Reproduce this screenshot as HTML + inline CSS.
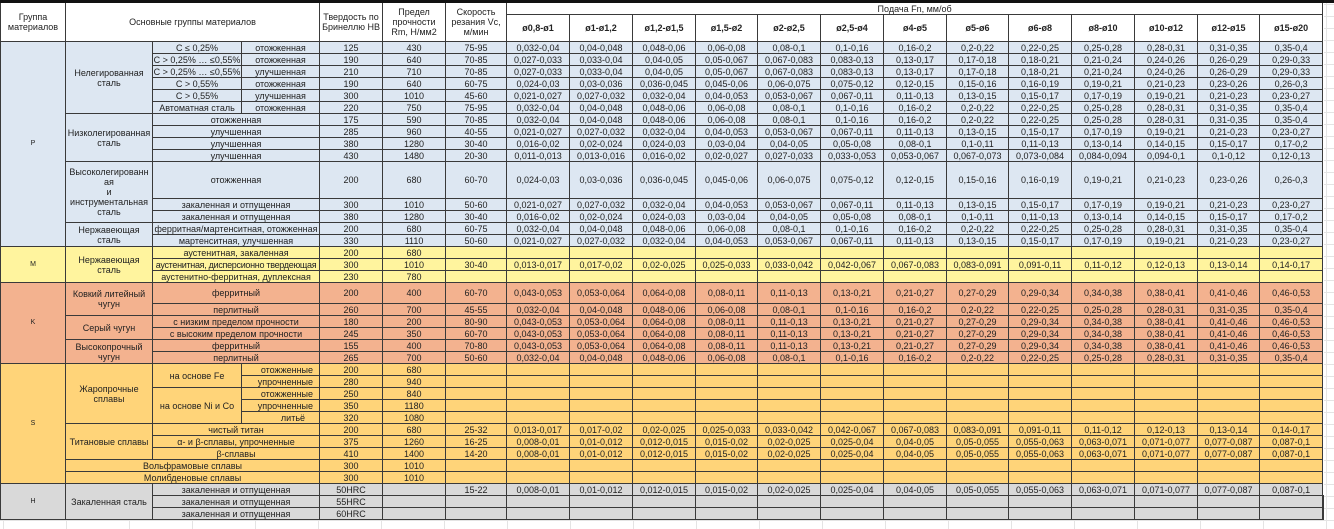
<!DOCTYPE html>
<html><head><meta charset="utf-8">
<style>
body{margin:0;background:#fff;width:1334px;height:529px;overflow:hidden;font-family:"Liberation Sans",Arial,sans-serif;position:relative;
background-image:linear-gradient(#e4e4e4 1px,transparent 1px),linear-gradient(90deg,#e4e4e4 1px,transparent 1px);background-size:100% 12px,63px 100%;background-position:0 4px,3px 0;}
.bar{height:3px;background:#111;width:1334px;}
table{border-collapse:collapse;table-layout:fixed;width:1324px;background:#fff;}
td{border:1px solid #3a3a3a;padding:0;font-size:9px;line-height:10px;text-align:center;color:#222;white-space:nowrap;overflow:hidden;}
td.w{white-space:normal;}
tr.r td{height:11px;}
.hd td{background:#fff;}
.hd2 td{font-weight:bold;height:26px;}
.p td{background:#dde7f2;}
.m td{background:#fff49e;}
.k td{background:#f3b28f;}
.s td{background:#ffd479;}
.h td{background:#d9d9d9;}
.g{font-size:7px;}
</style></head><body>
<div class="bar"></div>
<table>
<colgroup><col style="width:65px"><col style="width:87px"><col style="width:89px"><col style="width:78px"><col style="width:63px"><col style="width:63px"><col style="width:61px">
<col style="width:63px"><col style="width:63px"><col style="width:63px"><col style="width:62px"><col style="width:63px"><col style="width:63px"><col style="width:63px"><col style="width:62px"><col style="width:63px"><col style="width:63px"><col style="width:63px"><col style="width:62px"><col style="width:63px"></colgroup>
<tr class="hd"><td rowspan="2" class="w" style="border-top:none">Группа<br>материалов</td><td rowspan="2" colspan="3" style="border-top:none">Основные группы материалов</td><td rowspan="2" class="w" style="border-top:none">Твердость по<br>Бринеллю HB</td><td rowspan="2" class="w" style="border-top:none">Предел<br>прочности<br>Rm, Н/мм2</td><td rowspan="2" class="w" style="border-top:none">Скорость<br>резания Vc,<br>м/мин</td><td colspan="13" style="height:11px;border-top:none">Подача Fn, мм/об</td></tr>
<tr class="hd hd2"><td>ø0,8-ø1</td><td>ø1-ø1,2</td><td>ø1,2-ø1,5</td><td>ø1,5-ø2</td><td>ø2-ø2,5</td><td>ø2,5-ø4</td><td>ø4-ø5</td><td>ø5-ø6</td><td>ø6-ø8</td><td>ø8-ø10</td><td>ø10-ø12</td><td>ø12-ø15</td><td>ø15-ø20</td></tr>

<tr class="p r"><td rowspan="15" class="g">P</td><td rowspan="6" class="w">Нелегированная<br>сталь</td><td>C ≤ 0,25%</td><td>отожженная</td><td>125</td><td>430</td><td>75-95</td><td>0,032-0,04</td><td>0,04-0,048</td><td>0,048-0,06</td><td>0,06-0,08</td><td>0,08-0,1</td><td>0,1-0,16</td><td>0,16-0,2</td><td>0,2-0,22</td><td>0,22-0,25</td><td>0,25-0,28</td><td>0,28-0,31</td><td>0,31-0,35</td><td>0,35-0,4</td></tr>
<tr class="p r"><td>C &gt; 0,25% … ≤0,55%</td><td>отожженная</td><td>190</td><td>640</td><td>70-85</td><td>0,027-0,033</td><td>0,033-0,04</td><td>0,04-0,05</td><td>0,05-0,067</td><td>0,067-0,083</td><td>0,083-0,13</td><td>0,13-0,17</td><td>0,17-0,18</td><td>0,18-0,21</td><td>0,21-0,24</td><td>0,24-0,26</td><td>0,26-0,29</td><td>0,29-0,33</td></tr>
<tr class="p r"><td>C &gt; 0,25% … ≤0,55%</td><td>улучшенная</td><td>210</td><td>710</td><td>70-85</td><td>0,027-0,033</td><td>0,033-0,04</td><td>0,04-0,05</td><td>0,05-0,067</td><td>0,067-0,083</td><td>0,083-0,13</td><td>0,13-0,17</td><td>0,17-0,18</td><td>0,18-0,21</td><td>0,21-0,24</td><td>0,24-0,26</td><td>0,26-0,29</td><td>0,29-0,33</td></tr>
<tr class="p r"><td>C &gt; 0,55%</td><td>отожженная</td><td>190</td><td>640</td><td>60-75</td><td>0,024-0,03</td><td>0,03-0,036</td><td>0,036-0,045</td><td>0,045-0,06</td><td>0,06-0,075</td><td>0,075-0,12</td><td>0,12-0,15</td><td>0,15-0,16</td><td>0,16-0,19</td><td>0,19-0,21</td><td>0,21-0,23</td><td>0,23-0,26</td><td>0,26-0,3</td></tr>
<tr class="p r"><td>C &gt; 0,55%</td><td>улучшенная</td><td>300</td><td>1010</td><td>45-60</td><td>0,021-0,027</td><td>0,027-0,032</td><td>0,032-0,04</td><td>0,04-0,053</td><td>0,053-0,067</td><td>0,067-0,11</td><td>0,11-0,13</td><td>0,13-0,15</td><td>0,15-0,17</td><td>0,17-0,19</td><td>0,19-0,21</td><td>0,21-0,23</td><td>0,23-0,27</td></tr>
<tr class="p r"><td>Автоматная сталь</td><td>отожженная</td><td>220</td><td>750</td><td>75-95</td><td>0,032-0,04</td><td>0,04-0,048</td><td>0,048-0,06</td><td>0,06-0,08</td><td>0,08-0,1</td><td>0,1-0,16</td><td>0,16-0,2</td><td>0,2-0,22</td><td>0,22-0,25</td><td>0,25-0,28</td><td>0,28-0,31</td><td>0,31-0,35</td><td>0,35-0,4</td></tr>
<tr class="p r"><td rowspan="4" class="w">Низколегированная<br>сталь</td><td colspan="2">отожженная</td><td>175</td><td>590</td><td>70-85</td><td>0,032-0,04</td><td>0,04-0,048</td><td>0,048-0,06</td><td>0,06-0,08</td><td>0,08-0,1</td><td>0,1-0,16</td><td>0,16-0,2</td><td>0,2-0,22</td><td>0,22-0,25</td><td>0,25-0,28</td><td>0,28-0,31</td><td>0,31-0,35</td><td>0,35-0,4</td></tr>
<tr class="p r"><td colspan="2">улучшенная</td><td>285</td><td>960</td><td>40-55</td><td>0,021-0,027</td><td>0,027-0,032</td><td>0,032-0,04</td><td>0,04-0,053</td><td>0,053-0,067</td><td>0,067-0,11</td><td>0,11-0,13</td><td>0,13-0,15</td><td>0,15-0,17</td><td>0,17-0,19</td><td>0,19-0,21</td><td>0,21-0,23</td><td>0,23-0,27</td></tr>
<tr class="p r"><td colspan="2">улучшенная</td><td>380</td><td>1280</td><td>30-40</td><td>0,016-0,02</td><td>0,02-0,024</td><td>0,024-0,03</td><td>0,03-0,04</td><td>0,04-0,05</td><td>0,05-0,08</td><td>0,08-0,1</td><td>0,1-0,11</td><td>0,11-0,13</td><td>0,13-0,14</td><td>0,14-0,15</td><td>0,15-0,17</td><td>0,17-0,2</td></tr>
<tr class="p r"><td colspan="2">улучшенная</td><td>430</td><td>1480</td><td>20-30</td><td>0,011-0,013</td><td>0,013-0,016</td><td>0,016-0,02</td><td>0,02-0,027</td><td>0,027-0,033</td><td>0,033-0,053</td><td>0,053-0,067</td><td>0,067-0,073</td><td>0,073-0,084</td><td>0,084-0,094</td><td>0,094-0,1</td><td>0,1-0,12</td><td>0,12-0,13</td></tr>
<tr class="p"><td rowspan="3" class="w">Высоколегированн<br>ая<br>и<br>инструментальная<br>сталь</td><td colspan="2" style="height:36px">отожженная</td><td>200</td><td>680</td><td>60-70</td><td>0,024-0,03</td><td>0,03-0,036</td><td>0,036-0,045</td><td>0,045-0,06</td><td>0,06-0,075</td><td>0,075-0,12</td><td>0,12-0,15</td><td>0,15-0,16</td><td>0,16-0,19</td><td>0,19-0,21</td><td>0,21-0,23</td><td>0,23-0,26</td><td>0,26-0,3</td></tr>
<tr class="p r"><td colspan="2">закаленная и отпущенная</td><td>300</td><td>1010</td><td>50-60</td><td>0,021-0,027</td><td>0,027-0,032</td><td>0,032-0,04</td><td>0,04-0,053</td><td>0,053-0,067</td><td>0,067-0,11</td><td>0,11-0,13</td><td>0,13-0,15</td><td>0,15-0,17</td><td>0,17-0,19</td><td>0,19-0,21</td><td>0,21-0,23</td><td>0,23-0,27</td></tr>
<tr class="p r"><td colspan="2">закаленная и отпущенная</td><td>380</td><td>1280</td><td>30-40</td><td>0,016-0,02</td><td>0,02-0,024</td><td>0,024-0,03</td><td>0,03-0,04</td><td>0,04-0,05</td><td>0,05-0,08</td><td>0,08-0,1</td><td>0,1-0,11</td><td>0,11-0,13</td><td>0,13-0,14</td><td>0,14-0,15</td><td>0,15-0,17</td><td>0,17-0,2</td></tr>
<tr class="p r"><td rowspan="2" class="w">Нержавеющая<br>сталь</td><td colspan="2">ферритная/мартенситная, отожженная</td><td>200</td><td>680</td><td>60-75</td><td>0,032-0,04</td><td>0,04-0,048</td><td>0,048-0,06</td><td>0,06-0,08</td><td>0,08-0,1</td><td>0,1-0,16</td><td>0,16-0,2</td><td>0,2-0,22</td><td>0,22-0,25</td><td>0,25-0,28</td><td>0,28-0,31</td><td>0,31-0,35</td><td>0,35-0,4</td></tr>
<tr class="p r"><td colspan="2">мартенситная, улучшенная</td><td>330</td><td>1110</td><td>50-60</td><td>0,021-0,027</td><td>0,027-0,032</td><td>0,032-0,04</td><td>0,04-0,053</td><td>0,053-0,067</td><td>0,067-0,11</td><td>0,11-0,13</td><td>0,13-0,15</td><td>0,15-0,17</td><td>0,17-0,19</td><td>0,19-0,21</td><td>0,21-0,23</td><td>0,23-0,27</td></tr>

<tr class="m r"><td rowspan="3" class="g">M</td><td rowspan="3" class="w">Нержавеющая<br>сталь</td><td colspan="2">аустенитная, закаленная</td><td>200</td><td>680</td><td></td><td></td><td></td><td></td><td></td><td></td><td></td><td></td><td></td><td></td><td></td><td></td><td></td><td></td></tr>
<tr class="m r"><td colspan="2" style="letter-spacing:-0.3px">аустенитная, дисперсионно твердеющая</td><td>300</td><td>1010</td><td>30-40</td><td>0,013-0,017</td><td>0,017-0,02</td><td>0,02-0,025</td><td>0,025-0,033</td><td>0,033-0,042</td><td>0,042-0,067</td><td>0,067-0,083</td><td>0,083-0,091</td><td>0,091-0,11</td><td>0,11-0,12</td><td>0,12-0,13</td><td>0,13-0,14</td><td>0,14-0,17</td></tr>
<tr class="m r"><td colspan="2">аустенитно-ферритная, дуплексная</td><td>230</td><td>780</td><td></td><td></td><td></td><td></td><td></td><td></td><td></td><td></td><td></td><td></td><td></td><td></td><td></td><td></td></tr>

<tr class="k"><td rowspan="6" class="g">K</td><td rowspan="2" class="w">Ковкий литейный<br>чугун</td><td colspan="2" style="height:20px">ферритный</td><td>200</td><td>400</td><td>60-70</td><td>0,043-0,053</td><td>0,053-0,064</td><td>0,064-0,08</td><td>0,08-0,11</td><td>0,11-0,13</td><td>0,13-0,21</td><td>0,21-0,27</td><td>0,27-0,29</td><td>0,29-0,34</td><td>0,34-0,38</td><td>0,38-0,41</td><td>0,41-0,46</td><td>0,46-0,53</td></tr>
<tr class="k r"><td colspan="2">перлитный</td><td>260</td><td>700</td><td>45-55</td><td>0,032-0,04</td><td>0,04-0,048</td><td>0,048-0,06</td><td>0,06-0,08</td><td>0,08-0,1</td><td>0,1-0,16</td><td>0,16-0,2</td><td>0,2-0,22</td><td>0,22-0,25</td><td>0,25-0,28</td><td>0,28-0,31</td><td>0,31-0,35</td><td>0,35-0,4</td></tr>
<tr class="k r"><td rowspan="2">Серый чугун</td><td colspan="2">с низким пределом прочности</td><td>180</td><td>200</td><td>80-90</td><td>0,043-0,053</td><td>0,053-0,064</td><td>0,064-0,08</td><td>0,08-0,11</td><td>0,11-0,13</td><td>0,13-0,21</td><td>0,21-0,27</td><td>0,27-0,29</td><td>0,29-0,34</td><td>0,34-0,38</td><td>0,38-0,41</td><td>0,41-0,46</td><td>0,46-0,53</td></tr>
<tr class="k r"><td colspan="2">с высоким пределом прочности</td><td>245</td><td>350</td><td>60-70</td><td>0,043-0,053</td><td>0,053-0,064</td><td>0,064-0,08</td><td>0,08-0,11</td><td>0,11-0,13</td><td>0,13-0,21</td><td>0,21-0,27</td><td>0,27-0,29</td><td>0,29-0,34</td><td>0,34-0,38</td><td>0,38-0,41</td><td>0,41-0,46</td><td>0,46-0,53</td></tr>
<tr class="k r"><td rowspan="2" class="w">Высокопрочный<br>чугун</td><td colspan="2">ферритный</td><td>155</td><td>400</td><td>70-80</td><td>0,043-0,053</td><td>0,053-0,064</td><td>0,064-0,08</td><td>0,08-0,11</td><td>0,11-0,13</td><td>0,13-0,21</td><td>0,21-0,27</td><td>0,27-0,29</td><td>0,29-0,34</td><td>0,34-0,38</td><td>0,38-0,41</td><td>0,41-0,46</td><td>0,46-0,53</td></tr>
<tr class="k r"><td colspan="2">перлитный</td><td>265</td><td>700</td><td>50-60</td><td>0,032-0,04</td><td>0,04-0,048</td><td>0,048-0,06</td><td>0,06-0,08</td><td>0,08-0,1</td><td>0,1-0,16</td><td>0,16-0,2</td><td>0,2-0,22</td><td>0,22-0,25</td><td>0,25-0,28</td><td>0,28-0,31</td><td>0,31-0,35</td><td>0,35-0,4</td></tr>

<tr class="s r"><td rowspan="10" class="g">S</td><td rowspan="5" class="w">Жаропрочные<br>сплавы</td><td rowspan="2">на основе Fe</td><td style="text-align:right;padding-right:6px">отожженные</td><td>200</td><td>680</td><td></td><td></td><td></td><td></td><td></td><td></td><td></td><td></td><td></td><td></td><td></td><td></td><td></td><td></td></tr>
<tr class="s r"><td style="text-align:right;padding-right:6px">упрочненные</td><td>280</td><td>940</td><td></td><td></td><td></td><td></td><td></td><td></td><td></td><td></td><td></td><td></td><td></td><td></td><td></td><td></td></tr>
<tr class="s r"><td rowspan="3">на основе Ni и Co</td><td style="text-align:right;padding-right:6px">отожженные</td><td>250</td><td>840</td><td></td><td></td><td></td><td></td><td></td><td></td><td></td><td></td><td></td><td></td><td></td><td></td><td></td><td></td></tr>
<tr class="s r"><td style="text-align:right;padding-right:6px">упрочненные</td><td>350</td><td>1180</td><td></td><td></td><td></td><td></td><td></td><td></td><td></td><td></td><td></td><td></td><td></td><td></td><td></td><td></td></tr>
<tr class="s r"><td style="text-align:right;padding-right:14px">литьё</td><td>320</td><td>1080</td><td></td><td></td><td></td><td></td><td></td><td></td><td></td><td></td><td></td><td></td><td></td><td></td><td></td><td></td></tr>
<tr class="s r"><td rowspan="3">Титановые сплавы</td><td colspan="2">чистый титан</td><td>200</td><td>680</td><td>25-32</td><td>0,013-0,017</td><td>0,017-0,02</td><td>0,02-0,025</td><td>0,025-0,033</td><td>0,033-0,042</td><td>0,042-0,067</td><td>0,067-0,083</td><td>0,083-0,091</td><td>0,091-0,11</td><td>0,11-0,12</td><td>0,12-0,13</td><td>0,13-0,14</td><td>0,14-0,17</td></tr>
<tr class="s r"><td colspan="2">α- и β-сплавы, упрочненные</td><td>375</td><td>1260</td><td>16-25</td><td>0,008-0,01</td><td>0,01-0,012</td><td>0,012-0,015</td><td>0,015-0,02</td><td>0,02-0,025</td><td>0,025-0,04</td><td>0,04-0,05</td><td>0,05-0,055</td><td>0,055-0,063</td><td>0,063-0,071</td><td>0,071-0,077</td><td>0,077-0,087</td><td>0,087-0,1</td></tr>
<tr class="s r"><td colspan="2">β-сплавы</td><td>410</td><td>1400</td><td>14-20</td><td>0,008-0,01</td><td>0,01-0,012</td><td>0,012-0,015</td><td>0,015-0,02</td><td>0,02-0,025</td><td>0,025-0,04</td><td>0,04-0,05</td><td>0,05-0,055</td><td>0,055-0,063</td><td>0,063-0,071</td><td>0,071-0,077</td><td>0,077-0,087</td><td>0,087-0,1</td></tr>
<tr class="s r"><td colspan="3">Вольфрамовые сплавы</td><td>300</td><td>1010</td><td></td><td></td><td></td><td></td><td></td><td></td><td></td><td></td><td></td><td></td><td></td><td></td><td></td><td></td></tr>
<tr class="s r"><td colspan="3">Молибденовые сплавы</td><td>300</td><td>1010</td><td></td><td></td><td></td><td></td><td></td><td></td><td></td><td></td><td></td><td></td><td></td><td></td><td></td><td></td></tr>

<tr class="h r"><td rowspan="3" class="g">H</td><td rowspan="3">Закаленная сталь</td><td colspan="2">закаленная и отпущенная</td><td>50HRC</td><td></td><td>15-22</td><td>0,008-0,01</td><td>0,01-0,012</td><td>0,012-0,015</td><td>0,015-0,02</td><td>0,02-0,025</td><td>0,025-0,04</td><td>0,04-0,05</td><td>0,05-0,055</td><td>0,055-0,063</td><td>0,063-0,071</td><td>0,071-0,077</td><td>0,077-0,087</td><td>0,087-0,1</td></tr>
<tr class="h r"><td colspan="2">закаленная и отпущенная</td><td>55HRC</td><td></td><td></td><td></td><td></td><td></td><td></td><td></td><td></td><td></td><td></td><td></td><td></td><td></td><td></td><td></td><td></td></tr>
<tr class="h r"><td colspan="2">закаленная и отпущенная</td><td>60HRC</td><td></td><td></td><td></td><td></td><td></td><td></td><td></td><td></td><td></td><td></td><td></td><td></td><td></td><td></td><td></td><td></td></tr>
</table>
</body></html>
